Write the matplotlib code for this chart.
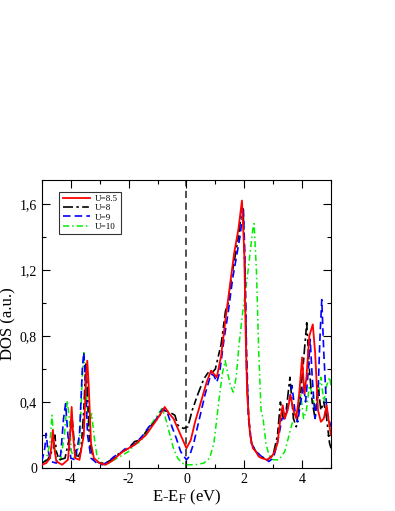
import matplotlib
matplotlib.use("Agg")
import matplotlib.pyplot as plt
from matplotlib.ticker import MultipleLocator, FuncFormatter

# DOS curves (energy in eV relative to E_F, DOS in a.u.)
e_u85 = [-5.0, -4.85, -4.72, -4.66, -4.62, -4.57, -4.5, -4.3, -4.1, -4.02, -3.97, -3.92, -3.85, -3.7,
         -3.55, -3.47, -3.43, -3.38, -3.3, -3.2, -3.0, -2.8, -2.6, -2.4, -2.2, -2.0, -1.8, -1.6, -1.4,
         -1.2, -1.0, -0.85, -0.75, -0.6, -0.45, -0.3, -0.15, 0.0, 0.15, 0.3, 0.5, 0.7, 0.85, 0.95, 1.05,
         1.2, 1.35, 1.5, 1.65, 1.8, 1.92, 2.0, 2.05, 2.1, 2.2, 2.3, 2.4, 2.5, 2.6, 2.8, 2.95, 3.05, 3.15,
         3.25, 3.33, 3.4, 3.5, 3.6, 3.7, 3.8, 3.9, 4.0, 4.08, 4.15, 4.25, 4.37, 4.45, 4.55, 4.65, 4.75,
         4.85, 4.95, 5.0]
dos_u85 = [0.02, 0.03, 0.06, 0.15, 0.23, 0.12, 0.04, 0.02, 0.05, 0.2, 0.37, 0.2, 0.06, 0.05,
           0.2, 0.55, 0.65, 0.5, 0.15, 0.06, 0.03, 0.02, 0.04, 0.07, 0.1, 0.12, 0.14, 0.17, 0.2,
           0.25, 0.3, 0.34, 0.37, 0.33, 0.3, 0.24, 0.18, 0.12, 0.17, 0.28, 0.4, 0.52, 0.59, 0.57, 0.55,
           0.68, 0.9, 1.1, 1.3, 1.45, 1.62, 1.3, 0.8, 0.45, 0.2, 0.12, 0.1, 0.07, 0.06, 0.05, 0.07, 0.1, 0.15,
           0.3, 0.38, 0.3, 0.35, 0.44, 0.35, 0.3, 0.45, 0.67, 0.45, 0.55, 0.8, 0.87, 0.7, 0.35, 0.28, 0.3,
           0.38, 0.25, 0.2]

e_u8 = [-5.0, -4.8, -4.6, -4.55, -4.5, -4.4, -4.2, -4.05, -3.95, -3.88, -3.78, -3.65, -3.55, -3.48,
        -3.42, -3.35, -3.2, -3.0, -2.8, -2.6, -2.4, -2.2, -2.0, -1.8, -1.6, -1.4, -1.2, -1.0, -0.8,
        -0.6, -0.4, -0.3, -0.1, 0.05, 0.2, 0.4, 0.6, 0.8, 0.9, 1.0, 1.2, 1.35, 1.45, 1.55, 1.7, 1.8,
        1.9, 1.96, 2.02, 2.08, 2.15, 2.25, 2.4, 2.6, 2.8, 3.0, 3.15, 3.25, 3.35, 3.45, 3.58, 3.7, 3.8,
        3.95, 4.05, 4.16, 4.25, 4.35, 4.45, 4.55, 4.65, 4.75, 4.85, 4.95, 5.0]
dos_u8 = [0.03, 0.05, 0.12, 0.2, 0.1, 0.05, 0.06, 0.18, 0.3, 0.15, 0.06, 0.1, 0.35, 0.63,
          0.45, 0.15, 0.05, 0.03, 0.03, 0.05, 0.08, 0.1, 0.12, 0.16, 0.17, 0.22, 0.26, 0.3, 0.35,
          0.34, 0.32, 0.26, 0.24, 0.25, 0.35, 0.45, 0.54, 0.59, 0.58, 0.6, 0.75, 0.95, 1.0, 1.15, 1.3, 1.4,
          1.55, 1.57, 1.2, 0.6, 0.3, 0.15, 0.1, 0.07, 0.05, 0.08, 0.2, 0.4, 0.3, 0.35, 0.55, 0.3, 0.25,
          0.45, 0.65, 0.88, 0.6, 0.4, 0.3, 0.5, 0.35, 0.4, 0.3, 0.15, 0.12]

e_u9 = [-5.0, -4.9, -4.85, -4.8, -4.7, -4.5, -4.35, -4.25, -4.18, -4.1, -4.0, -3.85, -3.7, -3.6,
        -3.55, -3.5, -3.42, -3.3, -3.1, -2.9, -2.7, -2.5, -2.3, -2.1, -1.9, -1.7, -1.5, -1.3, -1.1,
        -0.9, -0.8, -0.65, -0.5, -0.35, -0.2, 0.0, 0.1, 0.25, 0.45, 0.65, 0.85, 0.95, 1.05, 1.15, 1.3,
        1.45, 1.6, 1.75, 1.85, 1.97, 2.02, 2.08, 2.15, 2.25, 2.4, 2.6, 2.85, 3.0, 3.1, 3.2, 3.3, 3.4,
        3.55, 3.65, 3.75, 3.85, 3.95, 4.05, 4.12, 4.22, 4.28, 4.35, 4.45, 4.55, 4.62, 4.68, 4.75, 4.85,
        4.95, 5.0]
dos_u9 = [0.04, 0.12, 0.21, 0.12, 0.04, 0.03, 0.08, 0.3, 0.39, 0.2, 0.06, 0.05, 0.2, 0.6,
          0.7, 0.55, 0.2, 0.06, 0.03, 0.02, 0.04, 0.07, 0.09, 0.12, 0.13, 0.16, 0.2, 0.25, 0.28,
          0.34, 0.36, 0.33, 0.25, 0.18, 0.1, 0.05, 0.07, 0.15, 0.3, 0.45, 0.57, 0.56, 0.52, 0.58, 0.78,
          0.95, 1.15, 1.3, 1.4, 1.57, 1.3, 0.7, 0.3, 0.15, 0.1, 0.07, 0.04, 0.06, 0.12, 0.2, 0.3, 0.3,
          0.4, 0.5, 0.35, 0.28, 0.4, 0.5, 0.4, 0.6, 0.78, 0.55, 0.3, 0.45, 0.8, 1.02, 0.7, 0.35,
          0.28, 0.25]

e_u10 = [-5.0, -4.85, -4.72, -4.65, -4.58, -4.5, -4.35, -4.22, -4.12, -4.05, -3.98, -3.85, -3.7,
         -3.6, -3.55, -3.48, -3.38, -3.28, -3.2, -3.1, -2.95, -2.8, -2.6, -2.4, -2.2, -2.0, -1.8, -1.6,
         -1.4, -1.2, -1.0, -0.85, -0.75, -0.6, -0.45, -0.3, -0.15, 0.0, 0.3, 0.6, 0.8, 0.95, 1.05, 1.15,
         1.25, 1.34, 1.42, 1.52, 1.62, 1.72, 1.82, 1.95, 2.1, 2.2, 2.3, 2.34, 2.42, 2.5, 2.58, 2.65,
         2.75, 2.85, 3.0, 3.2, 3.4, 3.55, 3.7, 3.85, 3.95, 4.05, 4.15, 4.25, 4.35, 4.45, 4.55, 4.65,
         4.75, 4.85, 4.95, 5.0]
dos_u10 = [0.03, 0.05, 0.15, 0.32, 0.15, 0.06, 0.05, 0.2, 0.41, 0.3, 0.1, 0.05, 0.15,
           0.55, 0.71, 0.5, 0.25, 0.33, 0.2, 0.08, 0.03, 0.02, 0.04, 0.06, 0.08, 0.1, 0.14, 0.16,
           0.21, 0.27, 0.32, 0.36, 0.32, 0.22, 0.12, 0.06, 0.03, 0.02, 0.02, 0.03, 0.06, 0.15, 0.3, 0.45,
           0.58, 0.65, 0.58, 0.5, 0.46, 0.55, 0.75, 0.95, 1.15, 1.3, 1.45, 1.48, 1.2, 0.7, 0.35, 0.3,
           0.15, 0.08, 0.05, 0.05, 0.1, 0.2, 0.3, 0.35, 0.45, 0.3, 0.35, 0.5, 0.45, 0.35, 0.42, 0.55,
           0.4, 0.5, 0.55, 0.5]

plt.rcParams['font.family'] = ['Liberation Serif', 'DejaVu Serif']
plt.rcParams['mathtext.fontset'] = 'stix'

fig = plt.figure(figsize=(3.95, 5.11), dpi=100)
ax = fig.add_axes([0.106, 0.084, 0.732, 0.564])

ax.axvline(0, color='#444444', ls=(0, (4, 2.5)), lw=1.3, zorder=1)
ax.plot(e_u85, dos_u85, color='red', lw=1.3, label='U=8.5', zorder=5)
ax.plot(e_u8, dos_u8, color='black', lw=1.2, ls=(0, (6, 2, 1.5, 2, 4, 2)), label='U=8', zorder=3)
ax.plot(e_u9, dos_u9, color='blue', lw=1.2, ls=(0, (4.5, 2.5)), label='U=9', zorder=4)
ax.plot(e_u10, dos_u10, color='#00ee00', lw=1.1, ls=(0, (4, 2, 1, 2)), label='U=10', zorder=2)

ax.set_xlim(-5, 5)
ax.set_ylim(0, 1.745)
ax.xaxis.set_major_locator(MultipleLocator(2))
ax.xaxis.set_minor_locator(MultipleLocator(1))
ax.yaxis.set_major_locator(MultipleLocator(0.4))
ax.yaxis.set_minor_locator(MultipleLocator(0.2))
ax.yaxis.set_major_formatter(FuncFormatter(lambda v, p: '0' if abs(v) < 1e-9 else f'{v:.1f}'.replace('.', ',')))
ax.xaxis.set_major_formatter(FuncFormatter(lambda v, p: f'{v:.0f}'))
ax.tick_params(which='both', direction='in', top=True, right=True, labelsize=10)
ax.tick_params(which='major', length=6, width=0.8)
ax.tick_params(which='minor', length=3, width=0.8)

ax.set_xlabel(r'E-E$_\mathrm{F}$ (eV)', fontsize=12, labelpad=1)
ax.set_ylabel('DOS (a.u.)', fontsize=12, labelpad=2)

leg = ax.legend(loc='upper left', fontsize=6.5, frameon=True, fancybox=False, edgecolor='black',
                handlelength=3.0, handletextpad=0.6, borderpad=0.35, labelspacing=0.1,
                bbox_to_anchor=(0.045, 0.975))
leg.get_frame().set_linewidth(0.8)

fig.savefig('out.png', dpi=100)
